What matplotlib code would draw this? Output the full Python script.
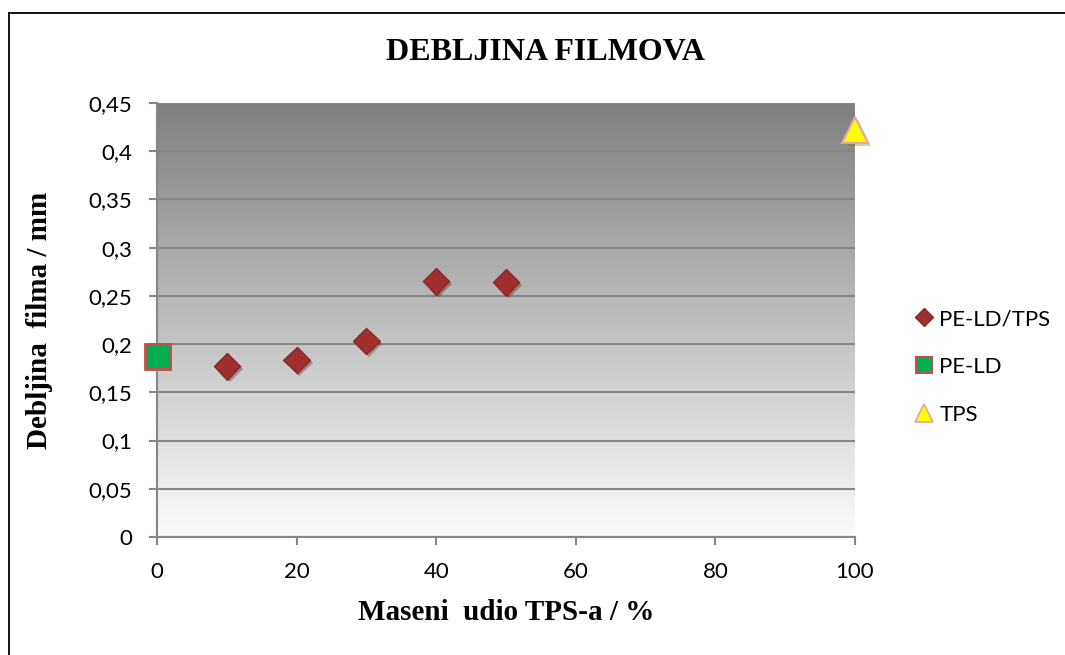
import numpy as np
import matplotlib
matplotlib.use("Agg")
import matplotlib.pyplot as plt
from matplotlib import patheffects as pe
from matplotlib.lines import Line2D

# ---- data ----
blend_x = [10, 20, 30, 40, 50]
blend_y = [0.177, 0.1835, 0.203, 0.265, 0.264]
peld_x = [0]
peld_y = [0.1875]
tps_x = [100]
tps_y = [0.422]
x_ticks = [0, 20, 40, 60, 80, 100]
y_ticks = [0, 0.05, 0.1, 0.15, 0.2, 0.25, 0.3, 0.35, 0.4, 0.45]
y_tick_labels = ["0", "0,05", "0,1", "0,15", "0,2", "0,25", "0,3", "0,35", "0,4", "0,45"]
title = "DEBLJINA FILMOVA"
xlabel = "Maseni  udio TPS-a / %"
ylabel = "Debljina  filma / mm"
series_names = ["PE-LD/TPS", "PE-LD", "TPS"]

W, H = 1065, 655
fig = plt.figure(figsize=(W / 100, H / 100), dpi=100)
fig.patch.set_facecolor("white")

# outer frame (left and top visible in reference)
fig.add_artist(Line2D([9 / W, 9 / W], [0, 1 - 13 / H], transform=fig.transFigure, color="black", lw=1.3))
fig.add_artist(Line2D([9 / W, 1], [1 - 13 / H, 1 - 13 / H], transform=fig.transFigure, color="black", lw=1.3))

left, right, bottom, top = 157, 855, 537, 103
ax = fig.add_axes([left / W, 1 - bottom / H, (right - left) / W, (bottom - top) / H])

# gradient background (dark at top, near-white at bottom)
grad = np.linspace(0, 1, 256).reshape(-1, 1)
top_c = np.array([127, 127, 127]) / 255
bot_c = np.array([252, 252, 252]) / 255
img = top_c[None, None, :] * (1 - grad[:, :, None]) + bot_c[None, None, :] * grad[:, :, None]
ax.imshow(img, extent=[0, 100, 0, 0.45], origin="upper", aspect="auto", zorder=0,
          interpolation="bilinear")
ax.set_xlim(0, 100)
ax.set_ylim(0, 0.45)

gridc = "#868686"
ax.set_yticks(y_ticks)
ax.set_yticklabels(y_tick_labels)
ax.set_xticks(x_ticks)
ax.yaxis.grid(True, color=gridc, lw=1.5, zorder=1)
ax.set_axisbelow(True)
for s in ["top", "right"]:
    ax.spines[s].set_visible(False)
for s in ["left", "bottom"]:
    ax.spines[s].set_color(gridc)
    ax.spines[s].set_linewidth(1.5)
ax.tick_params(axis="both", color=gridc, width=1.5, length=6, direction="out",
               labelsize=16, labelcolor="black")
ax.tick_params(axis="y", pad=12)
ax.tick_params(axis="x", pad=12)
for lab in ax.get_xticklabels() + ax.get_yticklabels():
    lab.set_fontfamily("Lato")

shadow = [pe.SimplePatchShadow(offset=(2, -2), alpha=0.35, rho=0.5), pe.Normal()]

ax.plot(blend_x, blend_y, linestyle="none", marker="D", ms=13.5, mfc="#a0302d", mec="#8a2826",
        mew=1.0, clip_on=False, zorder=5, label=series_names[0], path_effects=shadow)
ax.plot(peld_x, peld_y, linestyle="none", marker="s", ms=18, mfc="#00b050", mec="#c0504d",
        mew=2.0, clip_on=False, zorder=5, label=series_names[1], path_effects=shadow)
ax.plot(tps_x, tps_y, linestyle="none", marker="^", ms=19, mfc="#ffff00", mec="#e6a4a4",
        mew=1.5, clip_on=False, zorder=5, label=series_names[2], path_effects=shadow)

fig.text(545 / W, 1 - 53 / H, title, ha="center", va="center", fontsize=23,
         fontweight="bold", family="Liberation Serif")
fig.text(506 / W, 1 - 612 / H, xlabel, ha="center", va="center", fontsize=21,
         fontweight="bold", family="Liberation Serif")
fig.text(40 / W, 1 - 320 / H, ylabel, ha="center", va="center", fontsize=21,
         fontweight="bold", family="Liberation Serif", rotation=90)

handles = [
    Line2D([], [], linestyle="none", marker="D", ms=9, mfc="#a0302d", mec="#8a2826"),
    Line2D([], [], linestyle="none", marker="s", ms=12, mfc="#00b050", mec="#c0504d", mew=1.5),
    Line2D([], [], linestyle="none", marker="^", ms=13, mfc="#ffff00", mec="#e6a4a4", mew=1.2),
]
fig.legend(handles, series_names, loc="center left", bbox_to_anchor=(915 / W, 1 - 367 / H),
           frameon=False, prop={"family": "Lato", "size": 16}, handlelength=0.8,
           handletextpad=0.3, labelspacing=1.25, borderpad=0, borderaxespad=0)

fig.savefig("out.png", dpi=100)
